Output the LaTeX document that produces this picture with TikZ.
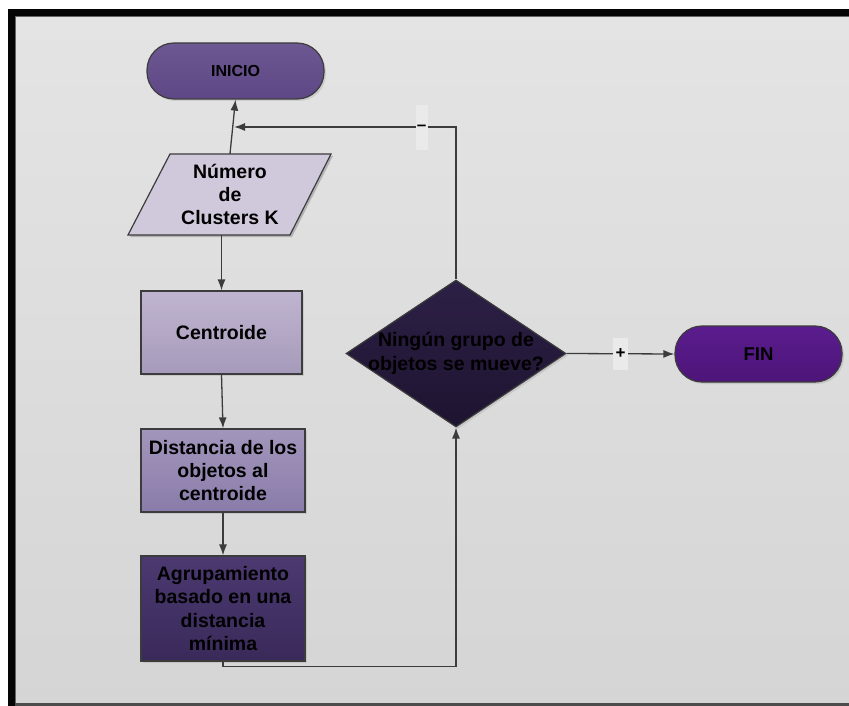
\documentclass[tikz,border=0pt]{standalone}
\usepackage{fontspec}
\setmainfont{Liberation Sans}
\usetikzlibrary{shapes.geometric,arrows.meta,shadows}

\definecolor{frameblk}{HTML}{050505}
\definecolor{bgtop}{HTML}{E4E4E4}
\definecolor{bgbot}{HTML}{D5D5D5}
\definecolor{edge}{HTML}{3C3C3C}
\definecolor{inicioT}{HTML}{6C5892}
\definecolor{inicioB}{HTML}{5E4785}
\definecolor{paraF}{HTML}{D0C9DB}
\definecolor{cenT}{HTML}{C0B5D0}
\definecolor{cenB}{HTML}{A69ABA}
\definecolor{disT}{HTML}{A396BB}
\definecolor{disB}{HTML}{8A7CAA}
\definecolor{agrT}{HTML}{4B3970}
\definecolor{agrB}{HTML}{3A2A5A}
\definecolor{decT}{HTML}{2D2046}
\definecolor{decB}{HTML}{1E1430}
\definecolor{finT}{HTML}{5B1D8E}
\definecolor{finB}{HTML}{4D1478}
\definecolor{tagbg}{HTML}{EAEAEA}

\begin{document}
\begin{tikzpicture}[x=1pt,y=-1pt,
  txt/.style={font=\bfseries\fontsize{19.5}{23.4}\selectfont, align=center, text=black},
  line/.style={draw=edge, line width=1.3pt},
  arr/.style={line, -{Latex[length=11pt,width=8pt]}},
  shd/.style={drop shadow={opacity=0.22,shadow xshift=2pt,shadow yshift=-2pt}},
  box/.style={txt, rectangle, draw=edge, line width=1.2pt, inner sep=0pt, shd},
  term/.style={box, rounded corners=27pt, minimum height=56pt},
  tag/.style={fill=tagbg, inner sep=0pt, font=\bfseries\fontsize{17}{20}\selectfont}
]
\useasboundingbox (0,0) rectangle (849,706);

% page frame
\fill[white] (0,0) rectangle (849,706);
\shade[top color=bgtop, bottom color=bgbot] (15,16) rectangle (849,703);
\fill[frameblk] (8,9) rectangle (849,16);
\fill[frameblk] (8,9) rectangle (15,706);
\draw[black!60, line width=0.8pt] (15.4,706) -- (15.4,16.4) -- (849,16.4);
\fill[black!70] (15,703) rectangle (849,705.5);

% terminals
\node[term, top color=inicioT, bottom color=inicioB, minimum width=177pt,
      font=\bfseries\fontsize{16}{19}\selectfont] (inicio) at (235.5,71) {INICIO};
\node[term, top color=finT, bottom color=finB, minimum width=167pt,
      font=\bfseries\fontsize{18.5}{22}\selectfont] (fin) at (758.5,354) {FIN};

% input parallelogram
\fill[black, opacity=0.2] (172,156) -- (333,156) -- (292,237) -- (130,237) -- cycle;
\filldraw[fill=paraF, draw=edge, line width=1.2pt]
  (170,154) -- (331,154) -- (290,235) -- (128,235) -- cycle;
\node[txt, minimum height=81pt, inner sep=0pt] (para) at (230,194.5)
  {Número\\de\\Clusters K};

% process boxes
\node[box, top color=cenT, bottom color=cenB, minimum width=161pt, minimum height=83pt]
  (cen) at (221.5,332.5) {Centroide};
\node[box, top color=disT, bottom color=disB, minimum width=164pt, minimum height=83pt]
  (dis) at (223,470.5) {Distancia de los\\objetos al\\centroide};
\node[box, top color=agrT, bottom color=agrB, minimum width=164pt, minimum height=105pt]
  (agr) at (223,608.5) {Agrupamiento\\basado en una\\distancia\\mínima};

% decision
\node[diamond, draw=edge, line width=1.2pt, top color=decT, bottom color=decB,
      minimum width=220pt, minimum height=147pt, inner sep=0pt, shd]
  (dec) at (456,353.5) {};
\node[txt] (dectext) at (dec.center) {Ningún grupo de\\objetos se mueve?};

% connectors
\coordinate (back) at (234,127);
\draw[arr] (para.north) -- (inicio.south);
\draw[arr] (cen.north |- para.south) -- (cen.north);
\draw[arr] (cen.south) -- (dis.north);
\draw[arr] (dis.south) -- (agr.north);
\draw[arr] (agr.south) -- ++(0,5) -| (dec.south);
\draw[arr] (dec.north) |- (back);
\draw[arr] (dec.east) -- (fin.west);

% branch labels
\node[tag, minimum width=12pt, minimum height=45pt] (minus) at (421.5,127.5) {\textendash};
\node[tag, minimum width=15pt, minimum height=32pt] (plus) at (620.5,353.5) {+};
\end{tikzpicture}
\end{document}
